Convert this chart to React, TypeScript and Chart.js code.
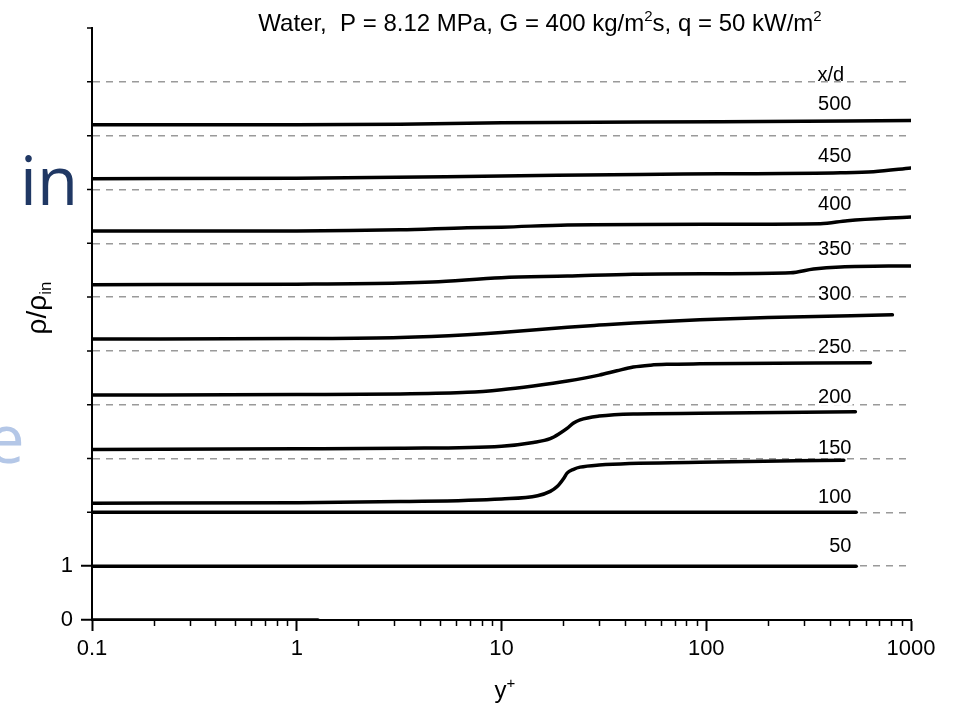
import React, { useEffect, useRef } from "react";
import { Chart, registerables } from "chart.js";

Chart.register(...registerables);

// ---------- data ----------
const X_0 = [0.1, 1.27];
const Y_0 = [0, 0];

const X_50 = [0.1, 540];
const Y_50 = [1, 1];

const X_100 = [0.1, 540];
const Y_100 = [2, 2];

const X_150 = [0.1, 1, 3.2, 10, 15, 17.3, 18.7, 20.2, 20.9, 22.5, 24.2, 30, 93, 470];
const Y_150 = [2.17, 2.18, 2.2, 2.25, 2.31, 2.39, 2.48, 2.64, 2.73, 2.8, 2.84, 2.88, 2.93, 2.97];

const X_200 = [0.1, 1, 3.2, 10, 14.3, 17.3, 19.3, 20.9, 22.5, 24.2, 30, 44, 93, 535];
const Y_200 = [3.17, 3.18, 3.19, 3.23, 3.3, 3.37, 3.47, 3.56, 3.66, 3.72, 3.79, 3.83, 3.84, 3.87];

const X_250 = [0.1, 1, 3.2, 6.8, 10, 14.3, 21, 30, 36.6, 44, 53.5, 64, 93, 634];
const Y_250 = [4.18, 4.19, 4.2, 4.23, 4.28, 4.35, 4.44, 4.55, 4.63, 4.7, 4.735, 4.75, 4.76, 4.78];

const X_300 = [0.1, 1, 3.2, 6.8, 10, 21, 30, 44, 93, 200, 811];
const Y_300 = [5.22, 5.23, 5.25, 5.3, 5.34, 5.44, 5.48, 5.52, 5.58, 5.62, 5.67];

const X_350 = [0.1, 1, 3.2, 4.6, 10, 21, 44, 117, 258, 334, 453, 1000];
const Y_350 = [6.23, 6.24, 6.26, 6.28, 6.36, 6.39, 6.425, 6.435, 6.45, 6.52, 6.56, 6.58];

const X_400 = [0.1, 1, 3.2, 6.8, 10, 21, 117, 361, 489, 1000];
const Y_400 = [7.23, 7.23, 7.25, 7.29, 7.3, 7.34, 7.355, 7.365, 7.42, 7.49];

const X_450 = [0.1, 1, 10, 47, 117, 453, 656, 1000];
const Y_450 = [8.2, 8.21, 8.25, 8.28, 8.29, 8.31, 8.33, 8.4];

const X_500 = [0.1, 1, 3.2, 10, 117, 1000];
const Y_500 = [9.2, 9.2, 9.21, 9.24, 9.26, 9.28];

const SERIES_NAMES = ["0", "50", "100", "150", "200", "250", "300", "350", "400", "450", "500"];
const SERIES_X = [X_0, X_50, X_100, X_150, X_200, X_250, X_300, X_350, X_400, X_450, X_500];
const SERIES_Y = [Y_0, Y_50, Y_100, Y_150, Y_200, Y_250, Y_300, Y_350, Y_400, Y_450, Y_500];

// axis ticks
const X_MAJOR_TICKS = [0.1, 1, 10, 100, 1000];
const X_MINOR_TICKS = [
  0.2, 0.3, 0.4, 0.5, 0.6, 0.7, 0.8, 0.9,
  2, 3, 4, 5, 6, 7, 8, 9,
  20, 30, 40, 50, 60, 70, 80, 90,
  200, 300, 400, 500, 600, 700, 800, 900,
];
const Y_TICKS = [0, 1, 2, 3, 4, 5, 6, 7, 8, 9, 10, 11];
const Y_LABELED_TICKS = [0, 1];
const Y_GRID_VALUES = [1, 2, 3, 4, 5, 6, 7, 8, 9, 10];

// in-plot labels (x/d)
const XD_HEADER = "x/d";
const XD_HEADER_Y = 10.12;
const XD_LABELS = ["500", "450", "400", "350", "300", "250", "200", "150", "100", "50"];
const XD_LABEL_Y = [9.58, 8.62, 7.72, 6.88, 6.04, 5.07, 4.13, 3.19, 2.28, 1.36];
const XD_LABEL_X = 512;

const FONT = '"Liberation Sans", Arial, sans-serif';

const overlayPlugin = {
  id: "overlay",
  beforeDraw(chart: any) {
    const { ctx } = chart;
    ctx.save();
    ctx.fillStyle = "#fff";
    ctx.fillRect(0, 0, chart.width, chart.height);
    // slide fragments on the left
    ctx.font = '67px "Open Sans", "Noto Sans", sans-serif';
    ctx.textBaseline = "alphabetic";
    ctx.fillStyle = "#203864";
    ctx.textAlign = "right";
    ctx.fillText("in", 78, 205);
    ctx.fillStyle = "#B4C7E7";
    ctx.textAlign = "left";
    ctx.fillText("e", -13, 463);
    ctx.restore();
  },
  afterDraw(chart: any) {
    const { ctx, chartArea } = chart;
    const xs = chart.scales.x;
    const ys = chart.scales.y;
    ctx.save();
    // minor tick marks
    ctx.strokeStyle = "#000";
    ctx.lineWidth = 1.5;
    ctx.beginPath();
    for (const v of X_MINOR_TICKS) {
      const px = Math.round(xs.getPixelForValue(v)) + 0.5;
      ctx.moveTo(px, chartArea.bottom);
      ctx.lineTo(px, chartArea.bottom + 6);
    }
    for (const v of Y_TICKS) {
      if (Y_LABELED_TICKS.includes(v)) continue;
      const py = ys.getPixelForValue(v);
      ctx.moveTo(chartArea.left - 5, py);
      ctx.lineTo(chartArea.left, py);
    }
    ctx.stroke();

    // x/d labels
    ctx.fillStyle = "#000";
    ctx.font = "20px " + FONT;
    ctx.textBaseline = "middle";
    const lx = xs.getPixelForValue(XD_LABEL_X);
    XD_LABELS.forEach((t: string, i: number) => {
      const py = ys.getPixelForValue(XD_LABEL_Y[i]);
      const w = ctx.measureText(t).width;
      ctx.fillStyle = "#fff";
      ctx.fillRect(lx - w - 1, py - 8, w + 2, 16);
      ctx.fillStyle = "#000";
      ctx.textAlign = "right";
      ctx.fillText(t, lx, py);
    });
    ctx.textAlign = "left";
    ctx.fillText(XD_HEADER, lx - 34, ys.getPixelForValue(XD_HEADER_Y));

    // title with superscripts
    const titleParts: [string, boolean][] = [
      ["Water,  P = 8.12 MPa, G = 400 kg/m", false],
      ["2", true],
      ["s, q = 50 kW/m", false],
      ["2", true],
    ];
    const tSize = 24;
    const measure = (p: [string, boolean]) => {
      ctx.font = (p[1] ? Math.round(tSize * 0.62) : tSize) + "px " + FONT;
      return ctx.measureText(p[0]).width;
    };
    const total = titleParts.reduce((a, p) => a + measure(p), 0);
    let tx = 540 - total / 2;
    const tBase = 31;
    ctx.textBaseline = "alphabetic";
    ctx.textAlign = "left";
    for (const p of titleParts) {
      const w = measure(p);
      ctx.fillText(p[0], tx, p[1] ? tBase - tSize * 0.42 : tBase);
      tx += w;
    }

    // x axis title y+
    const xSize = 24;
    ctx.font = xSize + "px " + FONT;
    const yw = ctx.measureText("y").width;
    ctx.font = Math.round(xSize * 0.62) + "px " + FONT;
    const pw = ctx.measureText("+").width;
    const ax = 505 - (yw + pw) / 2;
    const aBase = 698;
    ctx.font = xSize + "px " + FONT;
    ctx.fillText("y", ax, aBase);
    ctx.font = Math.round(xSize * 0.62) + "px " + FONT;
    ctx.fillText("+", ax + yw, aBase - xSize * 0.42);

    // y axis title rho/rho_in
    ctx.save();
    ctx.translate(38, 308);
    ctx.rotate(-Math.PI / 2);
    const ySize = 28;
    ctx.font = ySize + "px " + FONT;
    const mainW = ctx.measureText("\u03C1/\u03C1").width;
    ctx.font = Math.round(ySize * 0.62) + "px " + FONT;
    const subW = ctx.measureText("in").width;
    const start = -(mainW + subW) / 2;
    ctx.textBaseline = "middle";
    ctx.font = ySize + "px " + FONT;
    ctx.fillText("\u03C1/\u03C1", start, 0);
    ctx.font = Math.round(ySize * 0.62) + "px " + FONT;
    ctx.fillText("in", start + mainW, ySize * 0.3);
    ctx.restore();

    ctx.restore();
  },
};

export default function App() {
  const canvasRef = useRef<HTMLCanvasElement | null>(null);

  useEffect(() => {
    if (!canvasRef.current) return;
    const datasets = SERIES_NAMES.map((name, i) => ({
      label: name,
      data: SERIES_X[i].map((xv, j) => ({ x: xv, y: SERIES_Y[i][j] })),
      borderColor: "#000",
      backgroundColor: "#000",
      borderWidth: 3.5,
      pointRadius: 0,
      fill: false,
      cubicInterpolationMode: "monotone" as const,
      borderCapStyle: "round" as const,
    }));

    const chart = new Chart(canvasRef.current, {
      type: "line",
      data: { datasets },
      plugins: [overlayPlugin],
      options: {
        animation: false,
        responsive: false,
        events: [],
        layout: { padding: { top: 28, right: 44, left: 0, bottom: 0 } },
        plugins: {
          legend: { display: false },
          title: { display: false },
          tooltip: { enabled: false },
        },
        scales: {
          x: {
            type: "logarithmic",
            min: 0.1,
            max: 1000,
            afterBuildTicks: (s: any) => {
              s.ticks = X_MAJOR_TICKS.map((v) => ({ value: v }));
            },
            afterFit: (s: any) => {
              s.height = 95;
            },
            grid: {
              drawOnChartArea: false,
              drawTicks: true,
              tickLength: 11,
              tickWidth: 2,
              tickColor: "#000",
            },
            border: { display: true, color: "#000", width: 2 },
            ticks: {
              autoSkip: false,
              maxRotation: 0,
              padding: 5,
              color: "#000",
              font: { family: FONT, size: 22 },
              callback: (v: any) => String(v),
            },
          },
          y: {
            type: "linear",
            min: 0,
            max: 11,
            afterBuildTicks: (s: any) => {
              s.ticks = Y_TICKS.map((v) => ({ value: v }));
            },
            afterFit: (s: any) => {
              s.width = 92;
            },
            grid: {
              drawOnChartArea: true,
              drawTicks: true,
              tickLength: 11,
              tickWidth: 2,
              lineWidth: 1.5,
              tickBorderDash: [],
              color: (c: any) =>
                c.tick && Y_GRID_VALUES.includes(c.tick.value) ? "#9a9a9a" : "rgba(0,0,0,0)",
              tickColor: (c: any) =>
                c.tick && Y_LABELED_TICKS.includes(c.tick.value) ? "#000" : "rgba(0,0,0,0)",
            },
            border: { display: true, color: "#000", width: 2, dash: [7, 6] },
            ticks: {
              autoSkip: false,
              padding: 8,
              color: "#000",
              font: { family: FONT, size: 22 },
              callback: (v: any) => (Y_LABELED_TICKS.includes(v) ? String(v) : ""),
            },
          },
        },
      } as any,
    });
    return () => chart.destroy();
  }, []);

  return (
    <div style={{ position: "absolute", left: 0, top: 0, width: 955, height: 715, background: "#fff" }}>
      <canvas ref={canvasRef} width={955} height={715} style={{ display: "block" }} />
    </div>
  );
}
